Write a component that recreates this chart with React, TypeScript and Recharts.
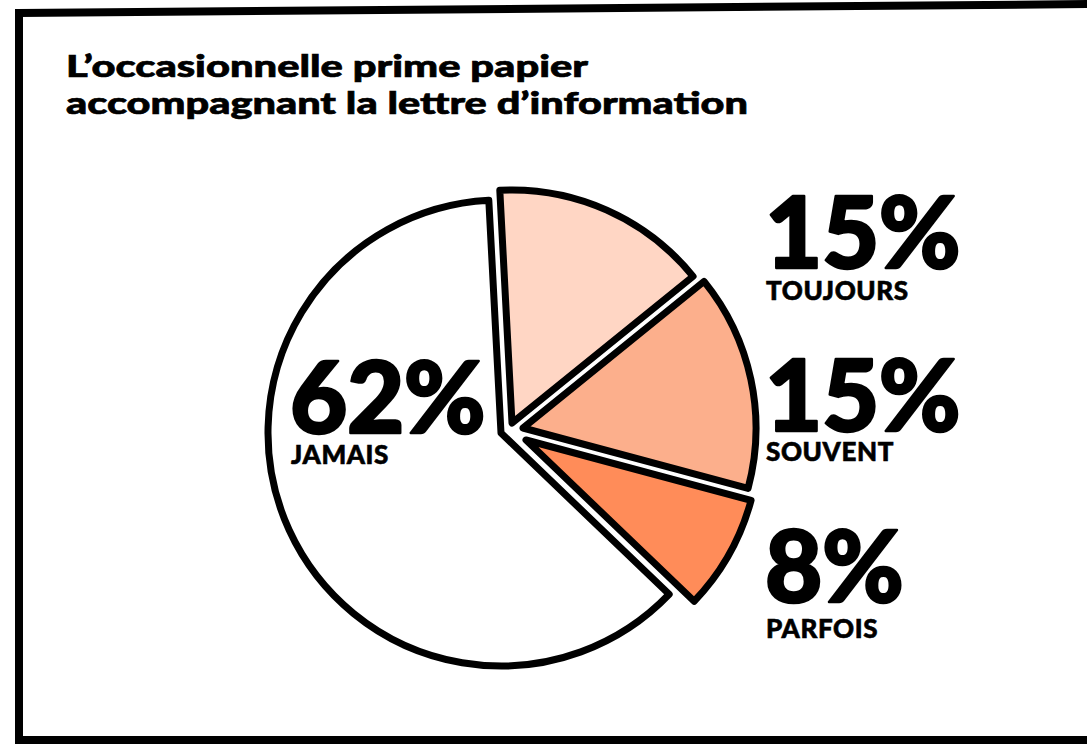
import { PieChart, Pie, Cell } from "recharts"

// data
const categories = ["Toujours", "Souvent", "Parfois", "Jamais"]
const shares = [15, 15, 8, 62]
const colors = ["#FFD6C4", "#FCAF8C", "#FF8C59", "#FFFFFF"]

const data = categories.map((name, i) => ({ name, value: shares[i] }))

const START = 93

// how far each slice is pulled out of the pie (layout only)
const pullOut = [
  { dx: 11, dy: -10 },
  { dx: 22, dy: -5 },
  { dx: 25, dy: 7 },
  { dx: 0, dy: 0 },
]

// label anchors (layout only)
const labelPos = [
  { x: 765, y: 268, sy: 300 },
  { x: 765, y: 431, sy: 461 },
  { x: 765, y: 602, sy: 638 },
  { x: 290, y: 433, sy: 464 },
]

const FONT = "Lato, sans-serif"

const renderLabel = (props: any) => {
  const p = labelPos[props.index]
  return (
    <text key={`lbl-${props.index}`} fontFamily={FONT} fontWeight={900} fill="#000">
      <tspan
        x={p.x}
        y={p.y}
        fontSize={99}
        letterSpacing={-0.5}
        stroke="#000"
        strokeWidth={2.5}
        strokeLinejoin="round"
      >
        {`${props.value}%`}
      </tspan>
      <tspan x={p.x + 1} y={p.sy} fontSize={26} letterSpacing={0.6} stroke="#000" strokeWidth={0.6}>
        {String(props.name).toUpperCase()}
      </tspan>
    </text>
  )
}

export default function App() {
  return (
    <div
      style={{
        position: "absolute",
        left: 0,
        top: 0,
        width: 1087,
        height: 744,
        overflow: "hidden",
        background: "#fff",
      }}
    >
      <svg width={1087} height={744} style={{ position: "absolute", left: 0, top: 0 }}>
        <polygon
          points="19,13 1100,4 1100,740 19,740"
          fill="none"
          stroke="#000"
          strokeWidth={8}
          strokeLinejoin="miter"
        />
        <text fontFamily={FONT} fontWeight={900} fontSize={31} fill="#000" stroke="#000" strokeWidth={0.7}>
          <tspan x={66} y={77} textLength={522} lengthAdjust="spacingAndGlyphs">
            L’occasionnelle prime papier
          </tspan>
          <tspan x={66} y={114} textLength={682} lengthAdjust="spacingAndGlyphs">
            accompagnant la lettre d’information
          </tspan>
        </text>
      </svg>
      <div style={{ position: "absolute", left: 0, top: 0 }}>
        <PieChart width={1087} height={744}>
          <Pie
            data={data}
            dataKey="value"
            nameKey="name"
            cx={496}
            cy={428}
            innerRadius={0}
            outerRadius={233}
            startAngle={START}
            endAngle={START - 360}
            stroke="#000"
            strokeWidth={7}
            strokeLinejoin="round"
            label={renderLabel}
            labelLine={false}
            isAnimationActive={false}
          >
            {data.map((d, i) => (
              <Cell
                key={d.name}
                fill={colors[i]}
                transform={`translate(${pullOut[i].dx},${pullOut[i].dy})`}
              />
            ))}
          </Pie>
        </PieChart>
      </div>
    </div>
  )
}
